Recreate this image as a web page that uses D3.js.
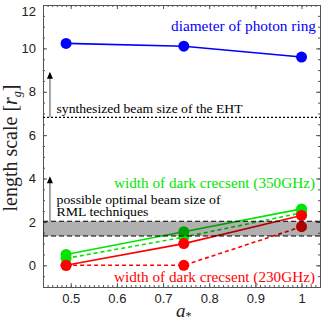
<!DOCTYPE html>
<html><head><meta charset="utf-8">
<script src="https://cdn.jsdelivr.net/npm/d3@7"></script>
<style>body{margin:0;background:#fff}svg{display:block}</style>
</head><body>
<script>
// ---- data ----
const spin = [0.49, 0.745, 1.0];
const photonRing = [10.23, 10.1, 9.6];
const green350Solid = [0.5, 1.55, 2.6];
const green350Dashed = [0.32, 1.3, 2.42];
const red230Solid = [0.0, 1.0, 2.3];
const red230Dashed = [0.0, 0.0, 1.78];
const ehtBeam = 6.82;
const rmlBand = [1.35, 2.03];
const xTicks = [0.5, 0.6, 0.7, 0.8, 0.9, 1];
const yTicks = [0, 2, 4, 6, 8, 10, 12];
const arrowTops = [8.92, 4.1];

const W = 326, H = 322;
const m = {l: 43, r: 6, t: 5, b: 35};
const svg = d3.select("body").append("svg").attr("width", W).attr("height", H);
const x = d3.scaleLinear().domain([0.44, 1.04]).range([m.l, W - m.r]);
const y = d3.scaleLinear().domain([-1, 12]).range([H - m.b, m.t]);
const serif = "Liberation Serif, Times New Roman, serif";
const sans = "Liberation Sans, Arial, sans-serif";

const g = svg.append("g");
const xMinor = d3.range(0.45, 1.041, 0.01);
const yMinor = d3.range(-1, 12.01, 0.5);
function axisSet(){
  const frame = "#555";
  const parts = [];
  parts.push(g.append("g").attr("transform", `translate(0,${y(-1)})`)
    .call(d3.axisBottom(x).tickValues(xMinor).tickSize(-2).tickFormat("")));
  parts.push(g.append("g").attr("transform", `translate(0,${y(-1)})`)
    .call(d3.axisBottom(x).tickValues(xTicks).tickSize(-4).tickPadding(7).tickFormat(d3.format(""))));
  parts.push(g.append("g").attr("transform", `translate(0,${y(12)})`)
    .call(d3.axisTop(x).tickValues(xMinor).tickSize(-2).tickFormat("")));
  parts.push(g.append("g").attr("transform", `translate(0,${y(12)})`)
    .call(d3.axisTop(x).tickValues(xTicks).tickSize(-4).tickFormat("")));
  parts.push(g.append("g").attr("transform", `translate(${x(0.44)},0)`)
    .call(d3.axisLeft(y).tickValues(yMinor).tickSize(-2).tickFormat("")));
  parts.push(g.append("g").attr("transform", `translate(${x(0.44)},0)`)
    .call(d3.axisLeft(y).tickValues(yTicks).tickSize(-4).tickPadding(7)));
  parts.push(g.append("g").attr("transform", `translate(${x(1.04)},0)`)
    .call(d3.axisRight(y).tickValues(yMinor).tickSize(-2).tickFormat("")));
  parts.push(g.append("g").attr("transform", `translate(${x(1.04)},0)`)
    .call(d3.axisRight(y).tickValues(yTicks).tickSize(-4).tickFormat("")));
  parts.forEach(a=>{
    a.selectAll("path").attr("stroke", frame).attr("stroke-width",1);
    a.selectAll("line").attr("stroke", frame);
    a.selectAll("text").attr("font-family", sans).attr("font-size", 13).attr("fill","#222");
  });
  parts[5].selectAll(".tick").filter(d => d === 12).select("text").attr("dy", "0.8em");
}
axisSet();

// EHT beam dotted line
g.append("line").attr("x1", x(0.44)).attr("x2", x(1.04)).attr("y1", y(ehtBeam)).attr("y2", y(ehtBeam))
  .attr("stroke", "#000").attr("stroke-width", 1.2).attr("stroke-dasharray", "2,2");

// arrows
const arrowX = x(0.455);
[[ehtBeam, arrowTops[0]], [rmlBand[1], arrowTops[1]]].forEach(([b, t]) => {
  g.append("line").attr("x1", arrowX).attr("x2", arrowX).attr("y1", y(b)).attr("y2", y(t) + 6)
    .attr("stroke", "#888").attr("stroke-width", 1.5);
  g.append("path").attr("d", `M${arrowX},${y(t)} L${arrowX-3},${y(t)+7} L${arrowX+3},${y(t)+7} Z`).attr("fill", "#000");
});

// series
const line = d3.line().x((d,i)=>x(spin[i])).y(d=>y(d));
function series(vals, color, dashed){
  g.append("path").datum(vals).attr("d", line).attr("fill","none").attr("stroke", color)
    .attr("stroke-width", 1.6).attr("stroke-dasharray", dashed ? "4,3" : null);
  g.selectAll(null).data(vals).enter().append("circle")
    .attr("cx", (d,i)=>x(spin[i])).attr("cy", d=>y(d)).attr("r", 5.5).attr("fill", color);
}
series(photonRing, "#0000ff", false);
series(green350Dashed, "#00e600", true);
series(green350Solid, "#00e600", false);
series(red230Dashed, "#ff0000", true);
series(red230Solid, "#ff0000", false);

// RML band
g.append("rect").attr("x", x(0.44)).attr("width", x(1.04)-x(0.44))
  .attr("y", y(rmlBand[1])).attr("height", y(rmlBand[0]) - y(rmlBand[1]))
  .attr("fill", "#000").attr("opacity", 0.31);
rmlBand.forEach(v => g.append("line").attr("x1", x(0.44)).attr("x2", x(1.04)).attr("y1", y(v)).attr("y2", y(v))
  .attr("stroke", "#000").attr("stroke-width", 1.2).attr("stroke-dasharray", "5,3"));

// annotations
function txt(s, px, py, color, size, len){
  return svg.append("text").attr("x", px).attr("y", py).attr("fill", color)
    .attr("font-family", serif).attr("font-size", size)
    .attr("textLength", len).attr("lengthAdjust", "spacingAndGlyphs").text(s);
}
txt("diameter of photon ring", 171, 30.5, "#0000ff", 14.5, 145);
txt("synthesized beam size of the EHT", 56.5, 113, "#000", 13.2, 186);
txt("width of dark crecsent (350GHz)", 114, 187.5, "#00e600", 14, 201);
txt("possible optimal beam size of", 56.5, 203.5, "#000", 12.3, 164);
txt("RML techniques", 56.5, 216, "#000", 12.3, 92);
txt("width of dark crecsent (230GHz)", 114, 281.5, "#ff0000", 14.3, 201);

// axis labels
const yl = svg.append("text").attr("transform", `translate(17,${(y(-1)+y(12))/2 + 2}) rotate(-90)`)
  .attr("text-anchor", "middle").attr("font-family", serif).attr("font-size", 20).attr("fill","#222");
yl.append("tspan").text("length scale [");
yl.append("tspan").attr("font-style","italic").text("r");
yl.append("tspan").attr("font-size", 12).attr("dy", 4).attr("font-style","italic").text("g");
yl.append("tspan").attr("dy", -4).text("]");
const xl = svg.append("text").attr("x", 176).attr("y", 317).attr("font-family", serif).attr("font-size", 19).attr("fill","#222");
xl.append("tspan").attr("font-style","italic").text("a");
xl.append("tspan").attr("font-size", 12).attr("dy", 3).text("*");
</script>
</body></html>
